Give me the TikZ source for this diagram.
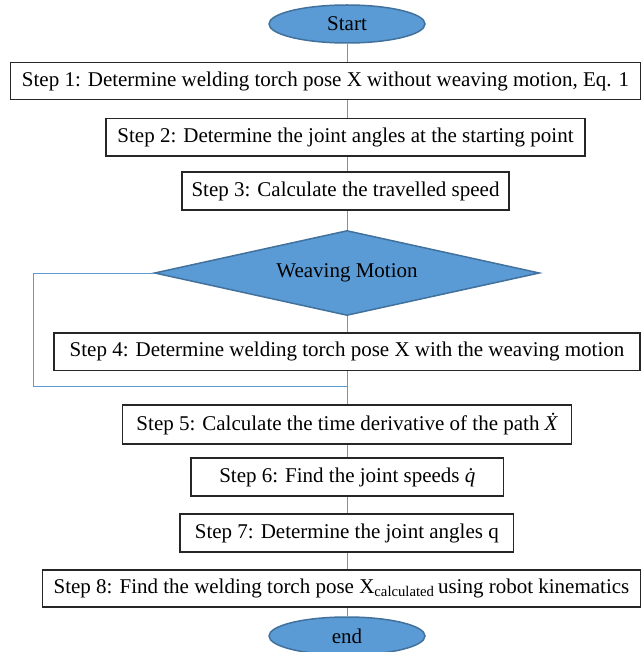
\documentclass[tikz,border=0pt]{standalone}
\usepackage{fontspec}
\setmainfont{Liberation Serif}
\usetikzlibrary{shapes.geometric}
\definecolor{fillblue}{HTML}{5B9BD5}
\definecolor{edgeblue}{HTML}{41719C}
\definecolor{linkblue}{HTML}{5B9BD5}
\tikzset{
  stepbox/.style={draw=black!85, line width=1.2pt, fill=white, inner sep=0pt, align=center},
  terminal/.style={ellipse, draw=edgeblue, line width=1.5pt, fill=fillblue, inner sep=0pt, minimum width=156pt, minimum height=38pt},
  decision/.style={diamond, draw=edgeblue, line width=1.5pt, fill=fillblue, inner sep=0pt, minimum width=385pt, minimum height=85pt, aspect=4.5},
  link/.style={draw=linkblue, line width=1pt},
}
\begin{document}
\begin{tikzpicture}[x=1pt,y=-1pt,font=\fontsize{21}{25}\selectfont]
\useasboundingbox (0,0) rectangle (641,652);
\node[terminal] (start) at (347,24) {Start};
\node[stepbox, minimum width=630.5pt, minimum height=37pt] (s1) at (325.5,81) {Step 1: Determine welding torch pose X without weaving motion, Eq. 1};
\node[stepbox, minimum width=479pt, minimum height=37.5pt] (s2) at (345.5,137.3) {Step 2: Determine the joint angles at the starting point};
\node[stepbox, minimum width=327pt, minimum height=38pt] (s3) at (345.5,191) {Step 3: Calculate the travelled speed};
\node[decision, minimum width=385pt, minimum height=85pt] (wm) at (347,273) {};
\node at (347,273) {Weaving Motion};
\node[stepbox, minimum width=586pt, minimum height=37.5pt] (s4) at (347,351.8) {Step 4: Determine welding torch pose X with the weaving motion};
\node[stepbox, minimum width=449pt, minimum height=39pt] (s5) at (347,424.5) {Step 5: Calculate the time derivative of the path \.{\itshape X}};
\node[stepbox, minimum width=312.6pt, minimum height=38pt] (s6) at (347.3,477) {Step 6: Find the joint speeds \.{\itshape q}};
\node[stepbox, minimum width=333.5pt, minimum height=38pt] (s7) at (346.8,533) {Step 7: Determine the joint angles q};
\node[stepbox, minimum width=598pt, minimum height=37pt] (s8) at (341.5,588.5) {Step 8: Find the welding torch pose X\textsubscript{calculated}\,using robot kinematics};
\node[terminal] (end) at (347,636) {end};
\coordinate (loopTL) at (33,273);
\coordinate (loopBL) at (33,386);
\coordinate (join) at (347,386);
\begin{scope}[on background layer/.try]
\end{scope}
\draw[link] (start.south) -- (start.south |- s1.north);
\draw[link] (s1.south -| start.south) -- (s2.north -| start.south);
\draw[link] (s2.south -| start.south) -- (s3.north -| start.south);
\draw[link] (s3.south -| start.south) -- (wm.north);
\draw[link] (wm.south) -- (s4.north -| wm.south);
\draw[link] (s4.south -| wm.south) -- (s5.north -| wm.south);
\draw[link] (wm.west) -- (loopTL) -- (loopBL) -- (join);
\draw[link] (s5.south -| wm.south) -- (s6.north -| wm.south);
\draw[link] (s6.south -| wm.south) -- (s7.north -| wm.south);
\draw[link] (s7.south -| wm.south) -- (s8.north -| wm.south);
\draw[link] (s8.south -| wm.south) -- (end.north);
\end{tikzpicture}
\end{document}
